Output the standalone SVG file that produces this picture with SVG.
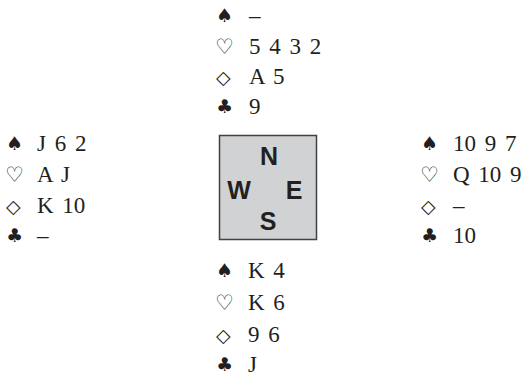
<svg xmlns="http://www.w3.org/2000/svg" width="526" height="376" viewBox="0 0 526 376">
<style>
.t{font-family:"Liberation Serif","Times New Roman",serif;font-size:23px;fill:#231f20;word-spacing:3px}
.s{font-family:"DejaVu Sans",sans-serif;font-size:19px;fill:#231f20}
.h{font-family:"DejaVu Sans",sans-serif;font-size:21px;fill:#231f20}
.d{font-family:"DejaVu Sans",sans-serif;font-size:19px;fill:#231f20}
.c{font-family:"Liberation Sans",Arial,sans-serif;font-size:25px;font-weight:bold;fill:#231f20;text-anchor:middle}
</style>
<rect width="526" height="376" fill="#fff"/>
<g id="north">
<text class="s" x="216" y="22">♠</text><text class="t" x="249" y="23">–</text>
<text class="h" x="215" y="54">♡</text><text class="t" x="249" y="54">5 4 3 2</text>
<text class="d" x="216" y="84">◇</text><text class="t" x="249" y="84">A 5</text>
<text class="s" x="216" y="113">♣</text><text class="t" x="249" y="114">9</text>
</g>
<g id="west">
<text class="s" x="6" y="150">♠</text><text class="t" x="37" y="151">J 6 2</text>
<text class="h" x="5" y="182">♡</text><text class="t" x="37" y="182">A J</text>
<text class="d" x="6" y="213">◇</text><text class="t" x="37" y="213">K 10</text>
<text class="s" x="6" y="242">♣</text><text class="t" x="37" y="243">–</text>
</g>
<g id="east">
<text class="s" x="421" y="150">♠</text><text class="t" x="453" y="151">10 9 7</text>
<text class="h" x="420" y="182">♡</text><text class="t" x="453" y="182">Q 10 9</text>
<text class="d" x="421" y="213">◇</text><text class="t" x="453" y="213">–</text>
<text class="s" x="421" y="242">♣</text><text class="t" x="453" y="243">10</text>
</g>
<g id="compass">
<rect x="219.5" y="135.5" width="97" height="104" fill="#d1d2d4" stroke="#414042" stroke-width="1.5"/>
<text class="c" x="269" y="165">N</text>
<text class="c" x="239" y="199">W</text>
<text class="c" x="294" y="199">E</text>
<text class="c" x="268" y="230">S</text>
</g>
<g id="south">
<text class="s" x="216" y="277">♠</text><text class="t" x="248" y="278">K 4</text>
<text class="h" x="215" y="310">♡</text><text class="t" x="248" y="310">K 6</text>
<text class="d" x="216" y="342">◇</text><text class="t" x="248" y="342">9 6</text>
<text class="s" x="216" y="371">♣</text><text class="t" x="248" y="372">J</text>
</g>
<g id="connectors"/>
</svg>
